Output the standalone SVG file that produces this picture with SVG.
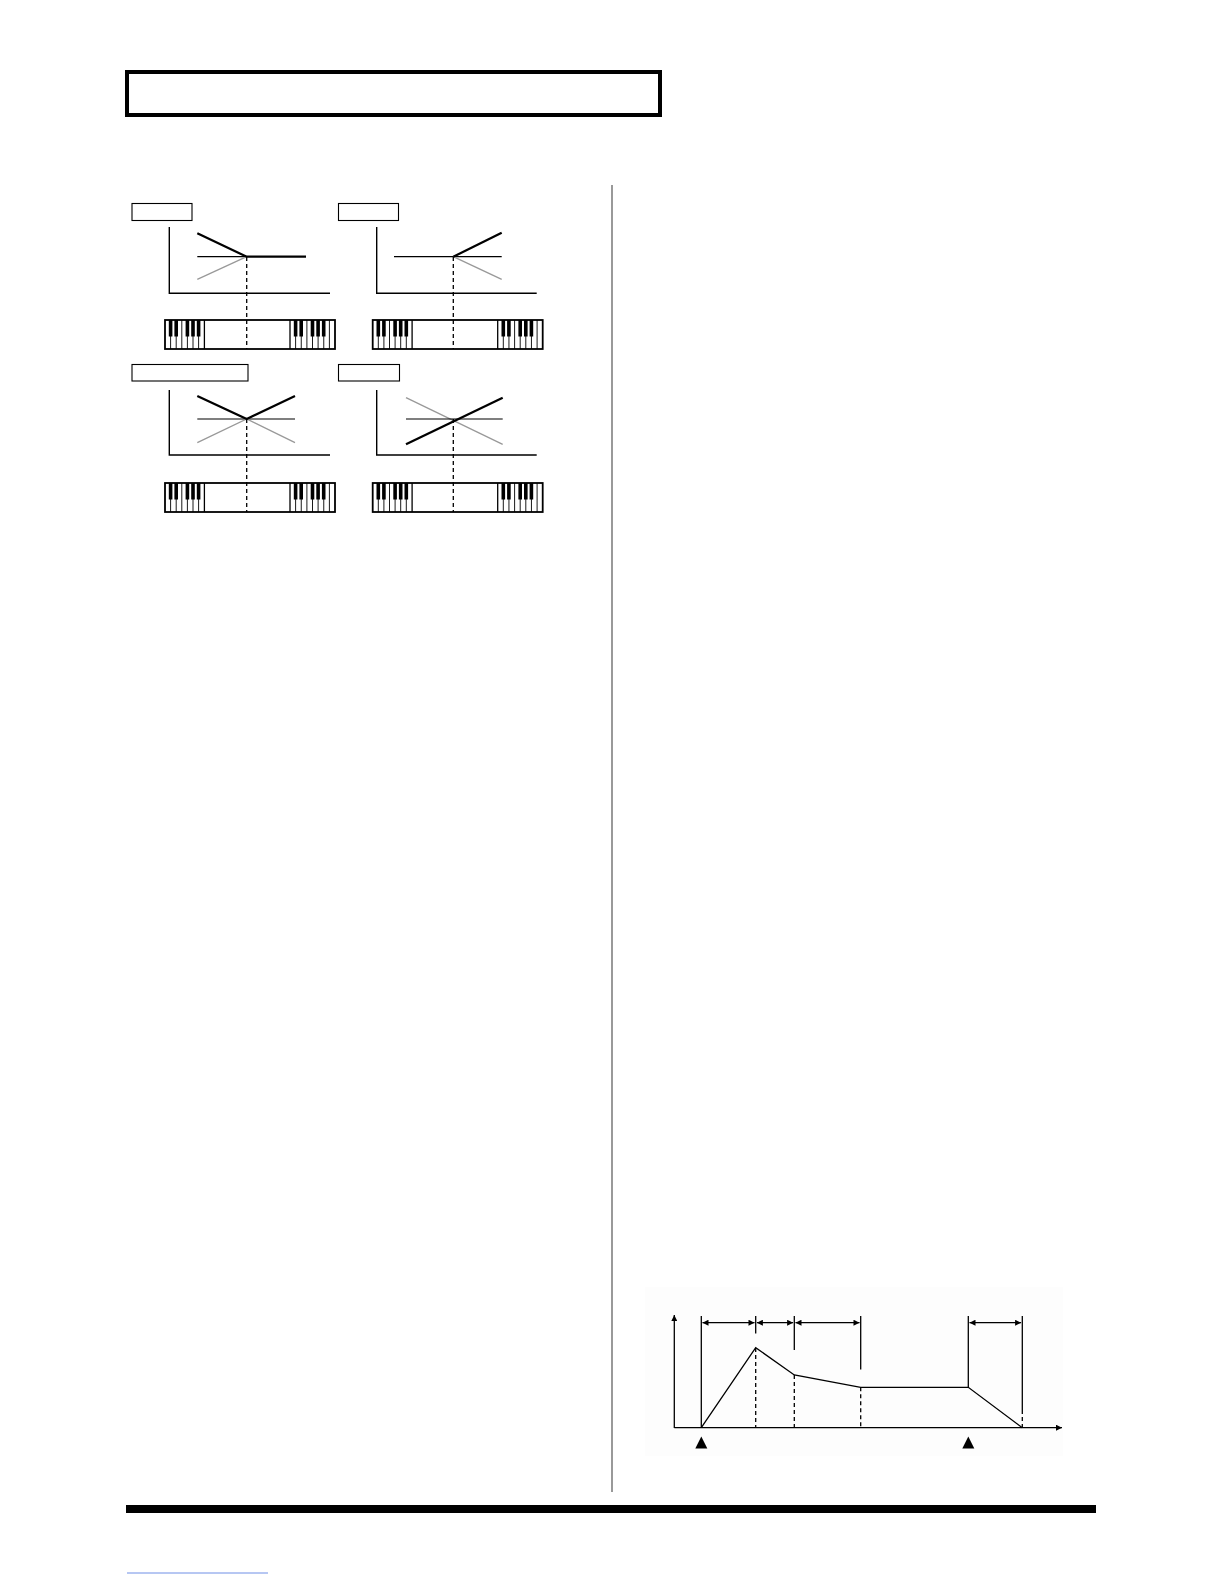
<svg xmlns="http://www.w3.org/2000/svg" xmlns:xlink="http://www.w3.org/1999/xlink" width="1224" height="1584" viewBox="0 0 1224 1584">
<style>
.lbl{fill:#fff;stroke:#000;stroke-width:1.1}
.axis{fill:none;stroke:#000;stroke-width:1.4}
.thick{fill:none;stroke:#000;stroke-width:2.3}
.thin{fill:none;stroke:#000;stroke-width:1.2}
.gray{fill:none;stroke:#999;stroke-width:1.3}
.dash{fill:none;stroke:#000;stroke-width:1.3;stroke-dasharray:4 3}
.env{fill:none;stroke:#000;stroke-width:1.3}
.wk{stroke:#000;stroke-width:0.9}
.bk{fill:#000}
</style>
<defs>
<g id="keyboard">
<rect x="0" y="0" width="170" height="29" fill="#fff" stroke="#000" stroke-width="1.8"/>
<g class="wk">
<line x1="5.6" y1="0" x2="5.6" y2="29"/><line x1="11.2" y1="0" x2="11.2" y2="29"/><line x1="16.8" y1="0" x2="16.8" y2="29"/><line x1="22.4" y1="0" x2="22.4" y2="29"/><line x1="28" y1="0" x2="28" y2="29"/><line x1="33.6" y1="0" x2="33.6" y2="29"/><line x1="39.4" y1="0" x2="39.4" y2="29" stroke-width="1.3"/>
<line x1="125" y1="0" x2="125" y2="29" stroke-width="1.3"/><line x1="130.6" y1="0" x2="130.6" y2="29"/><line x1="136.25" y1="0" x2="136.25" y2="29"/><line x1="141.9" y1="0" x2="141.9" y2="29"/><line x1="147.5" y1="0" x2="147.5" y2="29"/><line x1="153.1" y1="0" x2="153.1" y2="29"/><line x1="158.75" y1="0" x2="158.75" y2="29"/><line x1="164.4" y1="0" x2="164.4" y2="29"/>
</g>
<g class="bk">
<rect x="3.8" y="0" width="3.6" height="16.5"/><rect x="9.4" y="0" width="3.6" height="16.5"/><rect x="20.6" y="0" width="3.6" height="16.5"/><rect x="26.2" y="0" width="3.6" height="16.5"/><rect x="31.8" y="0" width="3.6" height="16.5"/>
<rect x="128.8" y="0" width="3.6" height="16.5"/><rect x="134.4" y="0" width="3.6" height="16.5"/><rect x="145.7" y="0" width="3.6" height="16.5"/><rect x="151.3" y="0" width="3.6" height="16.5"/><rect x="156.9" y="0" width="3.6" height="16.5"/>
</g>
</g>
<marker id="ah" viewBox="0 0 10 10" refX="10" refY="5" markerWidth="9" markerHeight="6" markerUnits="userSpaceOnUse" orient="auto-start-reverse">
<path d="M0,0 L10,5 L0,10 z" fill="#000"/>
</marker>
<marker id="axh" viewBox="0 0 10 10" refX="10" refY="5" markerWidth="12" markerHeight="6" markerUnits="userSpaceOnUse" orient="auto">
<path d="M0,0 L10,5 L0,10 z" fill="#000"/>
</marker>
</defs>

<g id="header">
<rect x="127" y="72" width="533" height="43" fill="none" stroke="#000" stroke-width="4"/>
</g>

<g id="divider">
<line x1="612" y1="185" x2="612" y2="1492" stroke="#777" stroke-width="1.5"/>
</g>

<g id="keyfollow-1">
<rect class="lbl" x="132" y="203.5" width="60" height="17"/>
<path class="axis" d="M169.3,227 V293.3 H330"/>
<line class="thin" x1="197.3" y1="256.7" x2="246.7" y2="256.7"/>
<line class="gray" x1="197.3" y1="279.3" x2="246.7" y2="256.7"/>
<path class="thick" d="M197.3,233.3 L246.7,256.7 H306"/>
<use xlink:href="#keyboard" x="165" y="320"/>
<line class="dash" x1="246.7" y1="257" x2="246.7" y2="349"/>
</g>

<g id="keyfollow-2">
<rect class="lbl" x="338.5" y="203.5" width="60" height="17"/>
<path class="axis" d="M376.7,227 V293.3 H536.7"/>
<line class="thin" x1="394" y1="256.7" x2="501.7" y2="256.7"/>
<line class="gray" x1="453.3" y1="256.7" x2="501.7" y2="279.3"/>
<line class="thick" x1="453.3" y1="256.7" x2="501.7" y2="232.7"/>
<use xlink:href="#keyboard" x="372.7" y="320"/>
<line class="dash" x1="453.3" y1="257" x2="453.3" y2="349"/>
</g>

<g id="keyfollow-3">
<rect class="lbl" x="132" y="364.5" width="116" height="16.5"/>
<path class="axis" d="M169.3,390 V455 H330"/>
<line class="thin" x1="197.3" y1="419" x2="295" y2="419"/>
<path class="gray" d="M197.3,442.7 L246.7,419 L295,442.7"/>
<path class="thick" d="M197.3,396 L246.7,419 L295,396"/>
<use xlink:href="#keyboard" x="165" y="483"/>
<line class="dash" x1="246.7" y1="419" x2="246.7" y2="512"/>
</g>

<g id="keyfollow-4">
<rect class="lbl" x="338.5" y="364.5" width="61" height="16.5"/>
<path class="axis" d="M376.7,390 V455 H536.7"/>
<line class="gray" x1="406" y1="397.7" x2="502.7" y2="444.3"/>
<line class="thin" x1="406" y1="419" x2="502.7" y2="419"/>
<line class="thick" x1="406" y1="444.3" x2="502.7" y2="397.7"/>
<use xlink:href="#keyboard" x="372.7" y="483"/>
<line class="dash" x1="453.3" y1="419" x2="453.3" y2="512"/>
</g>

<g id="envelope">
<rect x="645" y="1287" width="418" height="169" fill="#fdfdfd"/>
<line class="env" x1="674.3" y1="1428" x2="674.3" y2="1315" marker-end="url(#axh)"/>
<line class="env" x1="674.3" y1="1427.7" x2="1062" y2="1427.7" marker-end="url(#axh)"/>
<path class="env" d="M701.3,1427.7 L755.7,1347.7 L794.3,1375 L860.7,1387.3 L968.3,1387.3 L1022.3,1427.7"/>
<g class="env">
<line x1="701.3" y1="1316" x2="701.3" y2="1427.7"/>
<line x1="755.7" y1="1316" x2="755.7" y2="1333.5"/>
<line x1="794.3" y1="1316" x2="794.3" y2="1350"/>
<line x1="860.7" y1="1316" x2="860.7" y2="1369.5"/>
<line x1="968.3" y1="1316" x2="968.3" y2="1387.3"/>
<line x1="1022.3" y1="1316" x2="1022.3" y2="1410"/>
</g>
<g class="dash">
<line x1="755.7" y1="1348" x2="755.7" y2="1427.7"/>
<line x1="794.3" y1="1375" x2="794.3" y2="1427.7"/>
<line x1="860.7" y1="1387.3" x2="860.7" y2="1427.7"/>
<line x1="1022.3" y1="1410" x2="1022.3" y2="1427.7"/>
</g>
<g id="connectors" class="env">
<line x1="702.5" y1="1322.7" x2="754.5" y2="1322.7" marker-start="url(#ah)" marker-end="url(#ah)"/>
<line x1="756.9" y1="1322.7" x2="793.1" y2="1322.7" marker-start="url(#ah)" marker-end="url(#ah)"/>
<line x1="795.5" y1="1322.7" x2="859.5" y2="1322.7" marker-start="url(#ah)" marker-end="url(#ah)"/>
<line x1="969.5" y1="1322.7" x2="1021.1" y2="1322.7" marker-start="url(#ah)" marker-end="url(#ah)"/>
</g>
<path d="M701.3,1436.5 L707.3,1448.5 L695.3,1448.5 z" fill="#000"/>
<path d="M968.3,1436.5 L974.3,1448.5 L962.3,1448.5 z" fill="#000"/>
</g>

<g id="footer">
<rect x="126" y="1505" width="970" height="8" fill="#000"/>
<line x1="127" y1="1573" x2="268" y2="1573" stroke="#6f8fe6" stroke-width="1"/>
</g>
</svg>
